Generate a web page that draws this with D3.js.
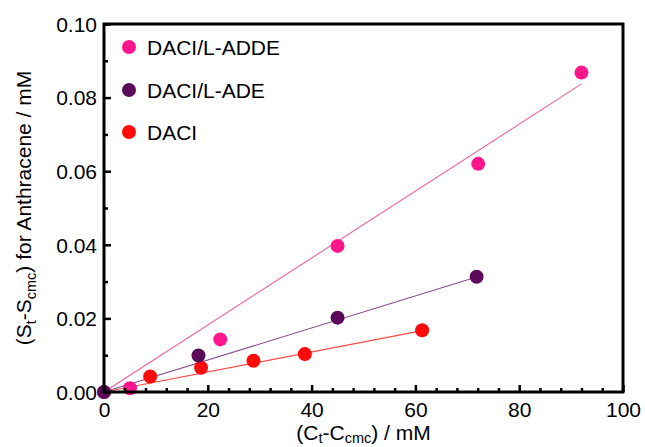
<!DOCTYPE html>
<html>
<head>
<meta charset="utf-8">
<script src="https://cdn.jsdelivr.net/npm/d3@7"></script>
<style>
  html, body { margin: 0; padding: 0; background: #fff; }
  svg { display: block; font-family: Arial, "Liberation Sans", sans-serif; }
</style>
</head>
<body>
<svg id="chart" width="645" height="447"></svg>
<script>
// Solubilised anthracene vs. surfactant concentration above CMC
const seriesNames = ["DACI/L-ADDE", "DACI/L-ADE", "DACI"];
const seriesColors = ["#ff158c", "#5a0a58", "#ff0a0a"];
const lineColors = ["#e8609e", "#8a4a8c", "#ff4a4a"];

const addeX = [0, 5.0, 22.4, 45.0, 72.1, 92.0];
const addeY = [0, 0.0010, 0.0143, 0.0397, 0.0620, 0.0868];
const adeX = [0, 18.2, 45.0, 71.8];
const adeY = [0, 0.0099, 0.0202, 0.0313];
const daciX = [8.9, 18.7, 28.8, 38.7, 61.3];
const daciY = [0.0042, 0.0066, 0.0085, 0.0103, 0.0168];

// Linear fits through the origin: x start, x end, slope
const fitX0 = [0, 0, 0];
const fitX1 = [92.0, 71.8, 61.3];
const fitSlope = [0.000910, 0.000435, 0.000272];

const xTicks = [0, 20, 40, 60, 80, 100];
const yTicks = [0, 0.02, 0.04, 0.06, 0.08, 0.10];

const seriesX = [addeX, adeX, daciX];
const seriesY = [addeY, adeY, daciY];

const svg = d3.select("#chart");
const margin = { left: 104, top: 24, right: 645 - 623, bottom: 447 - 392 };
const W = 645, H = 447;
const x = d3.scaleLinear().domain([0, 100]).range([margin.left, W - margin.right]);
const y = d3.scaleLinear().domain([0, 0.10]).range([H - margin.bottom, margin.top]);

const fontSize = 21;
const subSize = 14.5;

// Fit lines
const fits = seriesNames.map((n, i) => ({ i, x0: fitX0[i], x1: fitX1[i], k: fitSlope[i] }));
svg.append("g").selectAll("line").data(fits).join("line")
  .attr("x1", d => x(d.x0)).attr("y1", d => y(d.k * d.x0))
  .attr("x2", d => x(d.x1)).attr("y2", d => y(d.k * d.x1))
  .attr("stroke", d => lineColors[d.i]).attr("stroke-width", 1.1);

// Points (red first, then pink, then purple on top at the origin)
const order = [2, 0, 1];
order.forEach(i => {
  const pts = seriesX[i].map((v, j) => [v, seriesY[i][j]]);
  svg.append("g").selectAll("circle").data(pts).join("circle")
    .attr("cx", d => x(d[0])).attr("cy", d => y(d[1]))
    .attr("r", 7).attr("fill", seriesColors[i]);
});

// Axes with inward ticks
const xMinor = d3.range(0, 101, 4).filter(v => v % 20 !== 0);
const yMinor = [0.01, 0.03, 0.05, 0.07, 0.09];

const xAxis = svg.append("g").attr("transform", `translate(0,${y(0)})`);
xAxis.call(d3.axisBottom(x).tickValues(xTicks).tickSize(-7).tickFormat(d3.format("d")));
const xAxisMinor = svg.append("g").attr("transform", `translate(0,${y(0)})`);
xAxisMinor.call(d3.axisBottom(x).tickValues(xMinor).tickSize(-4).tickFormat(""));

const yAxis = svg.append("g").attr("transform", `translate(${x(0)},0)`);
yAxis.call(d3.axisLeft(y).tickValues(yTicks).tickSize(-7).tickFormat(d3.format(".2f")));
const yAxisMinor = svg.append("g").attr("transform", `translate(${x(0)},0)`);
yAxisMinor.call(d3.axisLeft(y).tickValues(yMinor).tickSize(-4).tickFormat(""));

[xAxis, xAxisMinor, yAxis, yAxisMinor].forEach(g => {
  g.select(".domain").remove();
  g.selectAll(".tick line").attr("stroke", "#000").attr("stroke-width", 2.5);
  g.selectAll(".tick text").attr("font-size", fontSize).attr("fill", "#000")
    .attr("font-family", "Arial, 'Liberation Sans', sans-serif");
});
xAxis.selectAll(".tick text").attr("y", 10).attr("dy", "0.71em");
yAxis.selectAll(".tick text").attr("x", -7).attr("dy", "0.35em");

// Frame
svg.append("rect")
  .attr("x", x(0)).attr("y", y(0.10))
  .attr("width", x(100) - x(0)).attr("height", y(0) - y(0.10))
  .attr("fill", "none").attr("stroke", "#000").attr("stroke-width", 3);

// Axis titles with subscripts
const xt = svg.append("text")
  .attr("x", (x(0) + x(100)) / 2).attr("y", 440)
  .attr("text-anchor", "middle").attr("font-size", fontSize).attr("fill", "#000");
xt.append("tspan").text("(C");
xt.append("tspan").text("t").attr("font-size", subSize).attr("dy", 3);
xt.append("tspan").text("-C").attr("dy", -3);
xt.append("tspan").text("cmc").attr("font-size", subSize).attr("dy", 3);
xt.append("tspan").text(") / mM").attr("dy", -3);

const yt = svg.append("text")
  .attr("transform", `translate(31,${(y(0) + y(0.10)) / 2}) rotate(-90)`)
  .attr("text-anchor", "middle").attr("font-size", fontSize).attr("fill", "#000");
yt.append("tspan").text("(S");
yt.append("tspan").text("t").attr("font-size", subSize).attr("dy", 5);
yt.append("tspan").text("-S").attr("dy", -5);
yt.append("tspan").text("cmc").attr("font-size", subSize).attr("dy", 5);
yt.append("tspan").text(") for Anthracene / mM").attr("dy", -5);

// Legend
const legY = [47, 90, 132];
const leg = svg.append("g").selectAll("g").data(seriesNames).join("g")
  .attr("transform", (d, i) => `translate(129,${legY[i]})`);
leg.append("circle").attr("r", 7).attr("fill", (d, i) => seriesColors[i]);
leg.append("text").attr("x", 18).attr("dy", "0.36em")
  .attr("font-size", fontSize).attr("fill", "#000").text(d => d);
</script>
</body>
</html>
